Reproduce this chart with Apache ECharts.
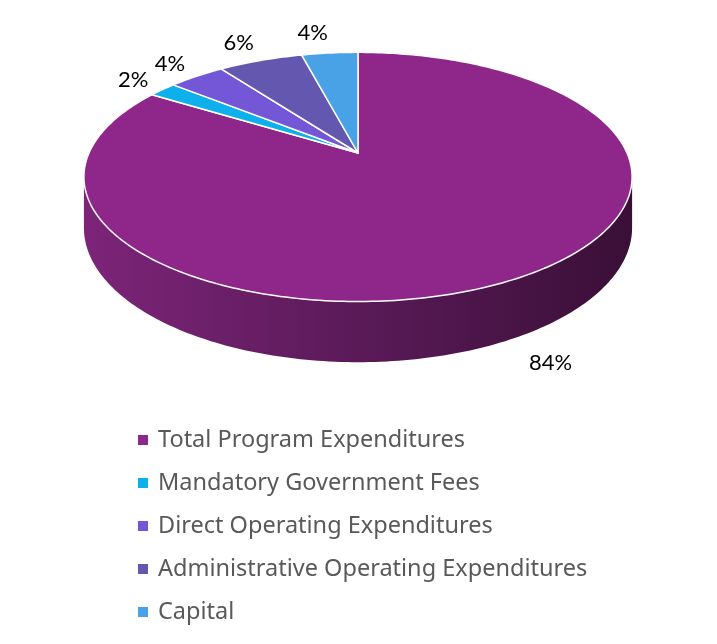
<!DOCTYPE html>
<html>
<head>
<meta charset="utf-8">
<script src="https://cdn.jsdelivr.net/npm/echarts@6/dist/echarts.min.js"></script>
<style>
html, body { margin: 0; padding: 0; background: #fff; }
#container { width: 717px; height: 644px; }
</style>
</head>
<body>
<div id="container"></div>
<script>
var categories = ['Total Program Expenditures', 'Mandatory Government Fees', 'Direct Operating Expenditures', 'Administrative Operating Expenditures', 'Capital'];
var values = [84, 2, 4, 6, 4];
var colors = ['#8f268a', '#0db0ea', '#7457d6', '#6357b0', '#4aa2e6'];

var dom = document.getElementById("container");
var myChart = echarts.init(dom);

// fake 3D pie: circle seen from above with some perspective
var CX = 358, CY = 153;     // projected centre of the pie
var A = 269, B = 120;       // radii
var P = 0.192;              // perspective strength
var DEPTH = 49;             // wall thickness

var total = 0;
values.forEach(function (v) { total += v; });
var starts = [];
var acc = 0;
values.forEach(function (v) { starts.push(acc); acc += v; });

function proj(deg, r, drop) {
    var t = deg * Math.PI / 180;
    var u = r * Math.sin(t), v = r * Math.cos(t);
    var w = 1 + P * v;
    return [CX + A * u / w, CY - B * v / w + (drop ? DEPTH / w : 0)];
}

function arc(from, to, drop) {
    var pts = [];
    var n = Math.max(2, Math.ceil(Math.abs(to - from)));
    for (var i = 0; i <= n; i++) {
        pts.push(proj(from + (to - from) * i / n, 1, drop));
    }
    return pts;
}

var visLo = Math.acos(-P) * 180 / Math.PI;
var visHi = 360 - visLo;

function renderSlice(params, api) {
    var val = api.value(0), st = api.value(1);
    var t1 = st / total * 360, t2 = (st + val) / total * 360;
    var children = [];

    var lo = Math.max(t1, visLo), hi = Math.min(t2, visHi);
    if (lo < hi) {
        var wall = arc(lo, hi, false).concat(arc(hi, lo, true));
        children.push({
            type: 'polygon',
            z2: 0,
            shape: { points: wall },
            style: {
                fill: {
                    type: 'linear', x: 0, y: 0, x2: 1, y2: 0,
                    colorStops: [
                        { offset: 0, color: '#7d2479' },
                        { offset: 0.5, color: '#5a1a58' },
                        { offset: 1, color: '#3a0f37' }
                    ]
                }
            }
        });
    }

    var top = [[CX, CY]].concat(arc(t1, t2, false));
    children.push({
        type: 'polygon',
        z2: 1,
        shape: { points: top },
        style: { fill: api.visual('color'), stroke: '#ffffff', lineWidth: 1.5, lineJoin: 'round' }
    });

    // label: box sits just outside the rim
    var mid = (t1 + t2) / 2;
    var s = Math.sin(mid * Math.PI / 180), c = Math.cos(mid * Math.PI / 180);
    var below = c < 0;
    var lp = proj(mid, 1.08, below);
    children.push({
        type: 'text',
        z2: 2,
        x: lp[0],
        y: lp[1] - 14 * c * Math.abs(c),
        style: {
            text: Math.round(val / total * 100) + '%',
            fill: '#000000',
            fontSize: 22,
            fontFamily: 'Lato',
            align: s < 0 ? 'right' : 'left',
            verticalAlign: 'middle'
        }
    });

    return { type: 'group', children: children };
}

var series = categories.map(function (name, i) {
    return {
        name: name,
        type: 'custom',
        coordinateSystem: 'none',
        itemStyle: { color: colors[i] },
        renderItem: renderSlice,
        data: [[values[i], starts[i]]]
    };
});

option = {
    animation: false,
    legend: {
        orient: 'vertical',
        left: 133,
        top: 423,
        icon: 'rect',
        itemWidth: 10,
        itemHeight: 10,
        itemGap: 19,
        textStyle: {
            color: '#595959',
            fontSize: 23.5,
            fontFamily: 'Noto Sans',
            lineHeight: 24,
            padding: [0, 0, 0, 5]
        },
        data: categories
    },
    series: series
};

if (option && typeof option === "object") {
    myChart.setOption(option, true);
}
</script>
</body>
</html>
